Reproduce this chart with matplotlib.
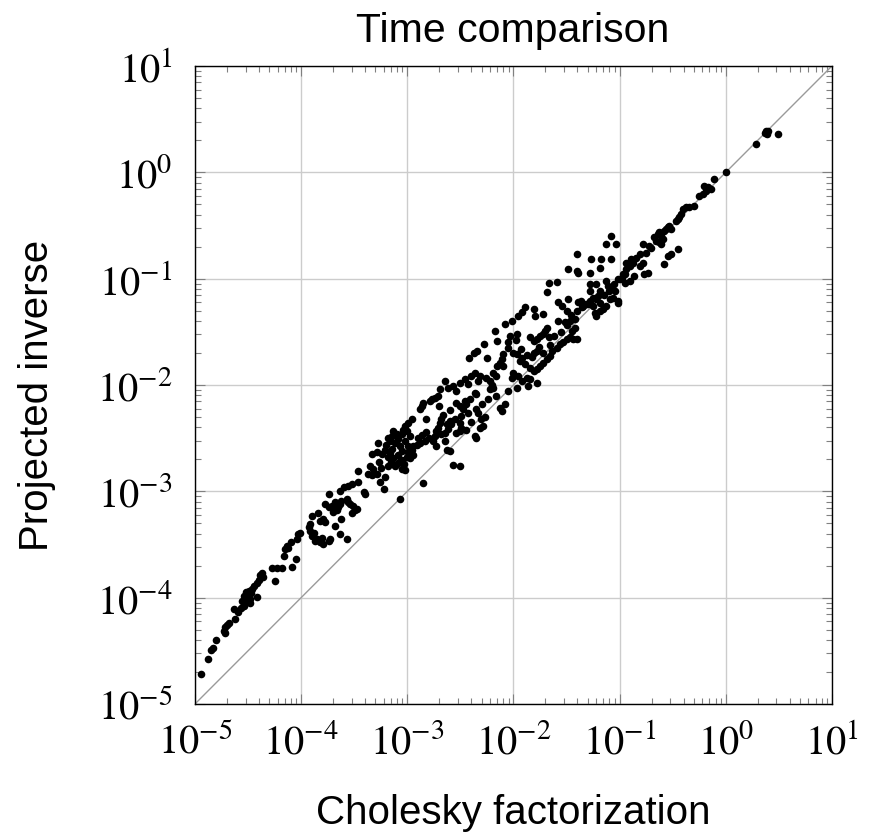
import numpy as np
import matplotlib.pyplot as plt
from matplotlib.ticker import LogLocator, FuncFormatter, NullFormatter

# log10 of run times (s)
log_cholesky = [
    -4.94, -4.876, -4.848, -4.83, -4.80, -4.73, -4.714, -4.70,
    -4.68, -4.72, -4.626, -4.635, -4.59, -4.57, -4.557, -4.54,
    -4.516, -4.495, -4.48, -4.463, -4.44, -4.42, -4.40, -4.416,
    -4.385, -4.36, -4.37, -4.50, -4.47, -4.53, -4.48, -4.54,
    -4.245, -4.276, -4.23, -4.18, -4.09, -4.166, -4.15, -4.135,
    -4.10, -4.12, -4.047, -4.04, -4.025, -4.01, -3.93, -3.915,
    -3.90, -3.88, -3.92, -3.85, -3.82, -3.805, -3.79, -3.87,
    -3.74, -3.73, -3.90, -3.84, -3.82, -3.79, -3.775, -3.775,
    -3.74, -3.71, -3.696, -3.665, -3.65, -3.63, -3.62, -3.68,
    -3.74, -3.68, -3.63, -3.62, -3.565, -3.57, -3.555, -3.54,
    -3.51, -3.49, -3.47, -3.52, -3.63, -3.60, -3.555, -3.52,
    -3.46, -3.46, -3.40, -3.41, -3.35, -3.32, -3.29, -3.335,
    -3.37, -3.26, -3.21, -3.22, -3.335, -3.29, -3.24, -3.21,
    -3.18, -3.13, -3.085, -3.05, -3.005, -3.10, -3.05, -3.02,
    -3.07, -2.99, -2.975,
    -3.27, -3.15, -3.12, -3.18, -3.08, -3.16, -3.25, -3.03,
    -3.13, -3.10, -3.147, -3.18, -3.163, -3.116, -3.085, -3.053,
    -3.04, -3.02, -2.99, -2.96, -3.006, -2.975, -3.02, -3.07,
    -2.99, -2.88, -2.865, -2.85, -2.787, -2.74, -2.71, -2.77,
    -2.825, -2.944, -2.912, -2.88, -2.834, -2.80, -2.96, -2.856,
    -2.74, -2.725, -2.693, -2.678, -2.71, -2.646, -2.615, -2.63,
    -2.60, -2.756, -2.725, -2.678, -2.646, -2.63, -2.60, -2.568,
    -2.505, -2.693, -2.646, -2.615, -2.568, -2.537, -2.505, -2.459,
    -2.427, -2.396, -2.365, -2.333, -2.365, -2.35, -2.318, -2.255,
    -2.224, -2.19, -2.16, -2.19, -2.16, -2.24, -2.224, -2.537,
    -2.505, -2.459, -2.474, -2.427, -2.49, -2.443, -2.41, -2.35,
    -2.333, -2.27, -2.302, -2.286, -2.318, -2.365, -2.35, -2.49,
    -2.505, -2.537, -2.584,
    -2.42, -2.376, -2.344, -2.28, -2.25, -2.172, -2.156, -2.078,
    -2.03, -2.016, -1.969, -1.953, -2.047, -2.0, -1.969, -1.92,
    -1.937, -1.89, -2.094, -2.11, -2.125, -2.156, -1.92, -1.89,
    -1.81, -1.797, -1.718, -1.687, -1.577, -1.546, -1.484, -1.39,
    -1.50, -1.405, -1.577, -1.515, -1.468, -1.42, -1.843, -1.81,
    -1.78, -1.75, -1.703, -1.687, -1.718, -1.67, -1.78, -1.81,
    -1.843, -1.81, -1.78, -1.75, -1.718, -1.687, -1.656, -1.64,
    -1.593, -1.562, -1.53, -1.50, -1.468, -1.437, -1.405, -1.452,
    -1.42, -1.875, -1.843, -1.859, -1.78, -1.953, -1.92, -2.0,
    -2.016, -1.969, -2.047, -2.078, -2.11, -2.125,
    -1.662, -1.594, -1.484, -1.406, -1.39, -1.406, -1.281, -1.266,
    -1.1875, -1.172, -1.078, -1.125, -1.078, -1.031, -1.281, -1.281,
    -1.219, -1.1875, -1.125, -1.11, -1.078, -1.047, -1.016, -1.0625,
    -1.094, -1.125, -1.156, -1.1875, -1.219, -1.25, -1.281, -1.3125,
    -1.344, -1.36, -1.234, -1.219, -1.1875, -1.016, -1.0, -0.969,
    -0.9375, -0.906, -0.875, -0.844, -0.8125, -0.781, -0.75, -0.8125,
    -0.781, -0.766, -0.86, -0.906, -0.953, -0.734, -0.9375, -0.89,
    -0.703, -0.719, -0.578, -0.547, -0.516, -0.453, -0.672, -0.64,
    -0.625, -0.61, -0.578, -0.5625, -0.547, -0.531, -0.516, -0.594,
    -0.625, -0.656, -0.61, -0.469, -0.453, -0.4375, -0.422, -0.406,
    -0.375, -0.344, -0.297, -0.25, -0.219, -0.1875, -0.172, -0.203,
    -0.14, -0.109, 0.0, 0.2875, 0.381, 0.39, 0.369, 0.40,
    0.4875,
    -3.28, -3.20, -3.14, -3.05, -2.95, -2.90, -2.86, -2.82,
    -2.70, -2.66, -2.60, -2.55, -2.50, -2.45, -2.40, -2.30,
    -2.20, -2.10, -2.05, -1.98, -1.93, -1.87, -1.83, -1.76,
    -1.72, -1.66, -1.62, -1.55, -1.50, -1.46, -1.35, -1.30,
    -1.25, -1.20, -1.15, -1.10, -1.05, -1.02, -0.98, -0.95,
]
log_projected = [
    -4.72, -4.574, -4.49, -4.47, -4.40, -4.315, -4.28, -4.26,
    -4.24, -4.33, -4.20, -4.11, -4.135, -4.095, -4.03, -3.98,
    -3.95, -3.94, -4.016, -3.915, -3.89, -3.86, -3.83, -3.99,
    -3.79, -3.81, -3.77, -4.00, -3.96, -4.02, -4.05, -4.08,
    -3.845, -3.72, -3.72, -3.72, -3.71, -3.61, -3.546, -3.514,
    -3.48, -3.53, -3.64, -3.45, -3.40, -3.39, -3.34, -3.37,
    -3.42, -3.39, -3.31, -3.45, -3.48, -3.435, -3.50, -3.47,
    -3.47, -3.45, -3.23, -3.20, -3.28, -3.26, -3.29, -3.12,
    -3.15, -3.136, -3.19, -3.18, -3.15, -3.12, -3.09, -3.10,
    -3.025, -3.325, -3.40, -3.26, -3.445, -3.07, -3.10, -3.12,
    -3.136, -3.18, -3.17, -3.20, -2.994, -2.96, -2.946, -2.93,
    -2.915, -2.81, -3.025, -3.01, -2.76, -2.79, -2.836, -2.85,
    -2.836, -2.915, -2.87, -2.98, -2.65, -2.63, -2.65, -2.615,
    -2.68, -2.69, -2.66, -2.71, -2.68, -2.74, -2.79, -2.80,
    -3.07, -2.63, -2.69,
    -2.72, -2.72, -2.76, -2.76, -2.72, -2.64, -2.78, -2.74,
    -2.434, -2.465, -2.48, -2.50, -2.53, -2.544, -2.51, -2.465,
    -2.42, -2.387, -2.355, -2.324, -2.434, -2.48, -2.53, -2.575,
    -2.575, -2.23, -2.198, -2.167, -2.15, -2.12, -2.104, -2.135,
    -2.318, -2.575, -2.56, -2.544, -2.53, -2.497, -2.607, -2.92,
    -2.48, -2.434, -2.355, -2.324, -2.40, -2.45, -2.418, -2.37,
    -2.34, -2.53, -2.575, -2.465, -2.53, -2.607, -2.62, -2.75,
    -2.764, -2.04, -1.962, -2.025, -2.01, -2.057, -1.978, -1.947,
    -1.994, -1.915, -1.884, -1.962, -2.072, -2.088, -1.915, -1.93,
    -1.962, -1.884, -1.915, -2.025, -2.104, -2.135, -2.04, -2.167,
    -2.198, -2.15, -2.23, -2.26, -2.29, -2.18, -2.135, -2.23,
    -2.26, -2.305, -2.324, -2.387, -2.40, -2.48, -2.496, -2.40,
    -2.434, -2.45, -2.37,
    -1.742, -1.695, -1.68, -1.616, -1.742, -1.49, -1.585, -1.428,
    -1.538, -1.396, -1.522, -1.35, -1.648, -1.695, -1.71, -1.742,
    -1.774, -1.805, -1.71, -1.758, -1.79, -1.82, -1.318, -1.27,
    -1.286, -1.35, -1.333, -1.13, -1.223, -1.255, -1.192, -1.223,
    -1.30, -1.30, -1.396, -1.41, -1.396, -1.38, -1.553, -1.585,
    -1.57, -1.538, -1.49, -1.46, -1.522, -1.553, -1.68, -1.695,
    -1.836, -1.868, -1.852, -1.82, -1.79, -1.758, -1.726, -1.68,
    -1.648, -1.616, -1.60, -1.57, -1.553, -1.57, -1.57, -1.49,
    -1.46, -1.93, -1.947, -2.01, -1.978, -1.915, -1.962, -1.884,
    -1.93, -2.025, -2.057, -2.18, -2.245, -2.214,
    -1.044, -1.031, -0.912, -0.77, -0.943, -0.928, -0.943, -0.818,
    -0.896, -0.811, -0.818, -0.676, -0.597, -0.676, -1.053, -1.116,
    -1.053, -1.116, -1.022, -1.069, -1.085, -1.116, -1.226, -1.18,
    -1.195, -1.258, -1.289, -1.226, -1.195, -1.18, -1.21, -1.242,
    -1.258, -1.21, -1.32, -1.352, -1.305, -1.21, -1.006, -0.959,
    -0.912, -0.88, -0.849, -0.802, -0.77, -0.676, -0.755, -0.88,
    -0.849, -0.959, -0.975, -1.022, -1.038, -0.943, -0.849, -0.818,
    -0.708, -0.692, -0.865, -0.786, -0.77, -0.723, -0.613, -0.582,
    -0.566, -0.597, -0.55, -0.535, -0.519, -0.503, -0.535, -0.629,
    -0.66, -0.645, -0.676, -0.456, -0.44, -0.425, -0.393, -0.346,
    -0.33, -0.33, -0.314, -0.22, -0.204, -0.173, -0.14, -0.126,
    -0.157, -0.063, 0.0, 0.267, 0.393, 0.362, 0.368, 0.387,
    0.362,
    -2.55, -2.56, -2.60, -2.62, -2.66, -2.50, -2.47, -2.44,
    -2.20, -2.28, -2.24, -2.32, -2.36, -2.42, -2.35, -2.18,
    -2.00, -1.82, -1.60, -1.58, -1.66, -1.72, -1.74, -1.64,
    -1.70, -1.62, -1.54, -1.50, -1.44, -1.34, -1.27, -1.24,
    -1.26, -1.16, -1.15, -1.12, -1.05, -1.00, -0.99, -0.96,
]
axis_limits = [1e-5, 1e1]

chol_time = 10.0 ** np.array(log_cholesky)
proj_time = 10.0 ** np.array(log_projected)

plt.rcParams['mathtext.fontset'] = 'stix'
label_font = 'Liberation Sans'

fig = plt.figure(figsize=(8.79, 8.36), dpi=100)
ax = fig.add_axes([0.2218, 0.1579, 0.7247, 0.7632])

ax.plot(axis_limits, axis_limits, color='#9a9a9a', lw=1.0, zorder=2)
ax.scatter(chol_time, proj_time, s=30, c='black', linewidths=0, zorder=3)

ax.set_xscale('log')
ax.set_yscale('log')
ax.set_xlim(axis_limits)
ax.set_ylim(axis_limits)

fmt = FuncFormatter(lambda v, p: r'$10^{%d}$' % round(np.log10(v)))
for axis in (ax.xaxis, ax.yaxis):
    axis.set_major_locator(LogLocator(base=10, numticks=10))
    axis.set_minor_locator(LogLocator(base=10, subs=np.arange(2, 10), numticks=100))
    axis.set_major_formatter(fmt)
    axis.set_minor_formatter(NullFormatter())

ax.tick_params(which='both', direction='in', top=True, right=True,
               color='#808080', width=0.8, labelsize=29)
ax.tick_params(which='major', length=7)
ax.tick_params(which='minor', length=4.5)
ax.tick_params(axis='x', pad=13)
ax.tick_params(axis='y', pad=16)

ax.grid(True, which='major', color='#cccccc', lw=1.0, zorder=0)
ax.set_axisbelow(True)
for sp in ax.spines.values():
    sp.set_linewidth(1.0)
    sp.set_color('black')

fig.text(0.5836, 1 - 31 / 836, 'Time comparison', fontsize=29.5,
         family=label_font, ha='center', va='center')
fig.text(0.5836, 1 - 813 / 836, 'Cholesky factorization', fontsize=29,
         family=label_font, ha='center', va='center')
fig.text(37 / 879, 1 - 395 / 836, 'Projected inverse', fontsize=29,
         family=label_font, ha='center', va='center', rotation=90)

fig.savefig('out.png', dpi=100)
